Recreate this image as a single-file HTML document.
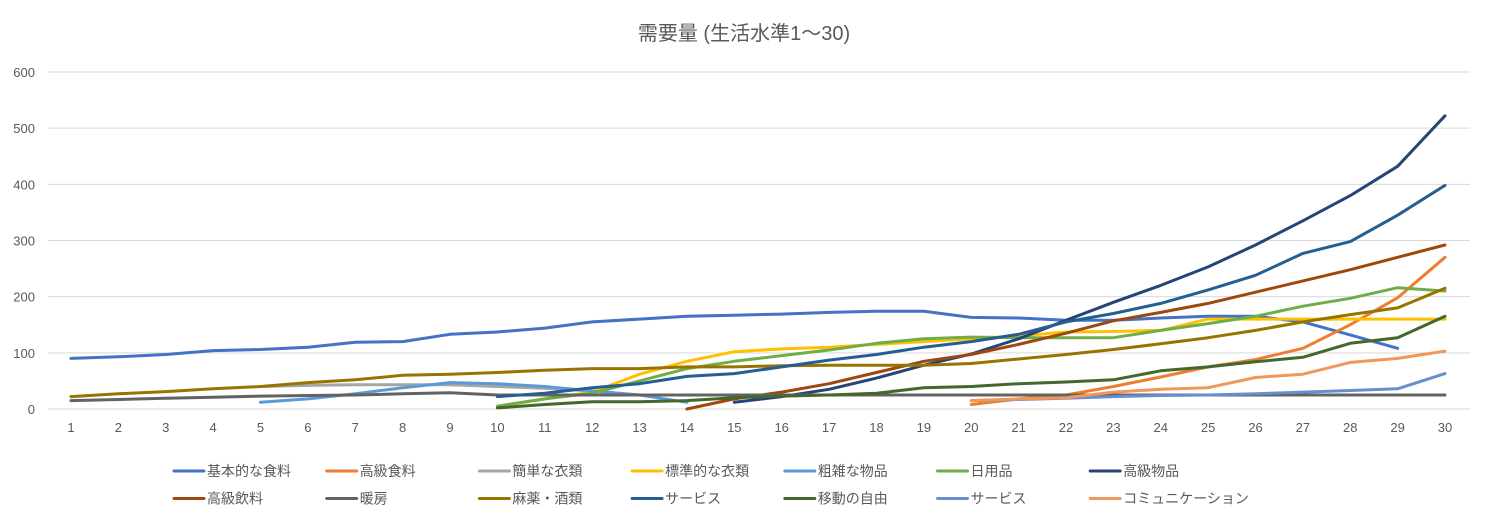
<!DOCTYPE html>
<html><head><meta charset="utf-8"><style>
body{margin:0;background:#fff;}
svg text{font-family:"Liberation Sans","Noto Sans CJK JP",sans-serif;fill:#595959;}
</style></head><body>
<svg id="c" width="1488" height="510" xmlns="http://www.w3.org/2000/svg">
<rect width="1488" height="510" fill="#fff"/>
<text x="744" y="40" font-size="20" text-anchor="middle">需要量 (生活水準1～30)</text>
<g id="g"></g>
</svg>
<script>
const g=document.getElementById('g');
const X=i=>71+(i-1)*47.38, Y=v=>409-v*0.5617;
let s='';
for(let v=0;v<=600;v+=100){const y=Y(v);s+=`<line x1="48" x2="1470" y1="${y}" y2="${y}" stroke="${v?'#d9d9d9':'#d9d9d9'}" stroke-width="1"/>`;
s+=`<text x="35" y="${y+5}" font-size="13" text-anchor="end">${v}</text>`;}
for(let i=1;i<=30;i++)s+=`<text x="${X(i)}" y="432" font-size="13" text-anchor="middle">${i}</text>`;
const S=[
["基本的な食料","#4472C4",1,[90,93,97,104,106,110,119,120,133,137,144,155,160,165,167,169,172,174,174,163,162,158,158,162,165,165,155,132,108]],
["高級食料","#ED7D31",20,[8,18,25,40,57,75,88,108,150,198,270]],
["簡単な衣類","#A5A5A5",5,[40,42,43,43,43,40,37,32,25]],
["標準的な衣類","#FFC000",10,[5,18,30,62,85,102,107,110,115,120,125,130,137,138,140,160,160,160,160,160,160]],
["粗雑な物品","#5B9BD5",5,[12,18,27,38,47,45,40,32,25,12]],
["日用品","#70AD47",10,[5,18,28,50,72,85,95,105,117,125,128,127,127,127,140,152,165,183,197,216,210]],
["高級物品","#264478",15,[12,22,35,55,78,98,125,158,190,220,253,292,335,380,432,522]],
["高級飲料","#9E480E",14,[0,18,30,45,65,85,97,115,135,157,172,188,208,228,248,270,292]],
["暖房","#636363",1,[15,17,19,21,23,24,25,27,29,25,25,25,25,25,25,25,25,25,25,25,25,25,25,25,25,25,25,25,25,25]],
["麻薬・酒類","#997300",1,[22,27,31,36,40,47,52,60,62,65,69,72,72,75,75,77,78,78,78,81,89,97,106,116,127,140,155,168,180,215]],
["サービス","#255E91",10,[22,28,38,45,58,63,75,87,97,110,120,133,155,170,188,212,238,277,298,345,398]],
["移動の自由","#43682B",10,[2,8,13,13,15,20,23,25,28,38,40,45,48,52,68,75,84,92,117,127,165]],
["サービス","#698ED0",20,[15,17,19,22,24,25,27,30,33,36,63]],
["コミュニケーション","#F1975A",20,[15,18,20,30,35,38,56,62,83,90,103]]];
const order=[2,4,9,0,3,5,10,7,6,8,11,12,13,1];
S.forEach((d,k)=>{const p=d[3].map((v,j)=>X(d[2]+j).toFixed(1)+','+Y(v).toFixed(1)).join(' ');
s+=`<polyline points="${p}" fill="none" stroke="${d[1]}" stroke-width="3" stroke-linejoin="round" stroke-linecap="round"/>`;
const r=Math.floor(k/7),c=k%7,lx=174+c*152.7,ly=471+r*27.5;
s+=`<line x1="${lx}" x2="${lx+30}" y1="${ly}" y2="${ly}" stroke="${d[1]}" stroke-width="3" stroke-linecap="round"/>`;
s+=`<text x="${lx+33}" y="${ly+5}" font-size="14">${d[0]}</text>`;});
g.innerHTML=s;
</script>
</body></html>
